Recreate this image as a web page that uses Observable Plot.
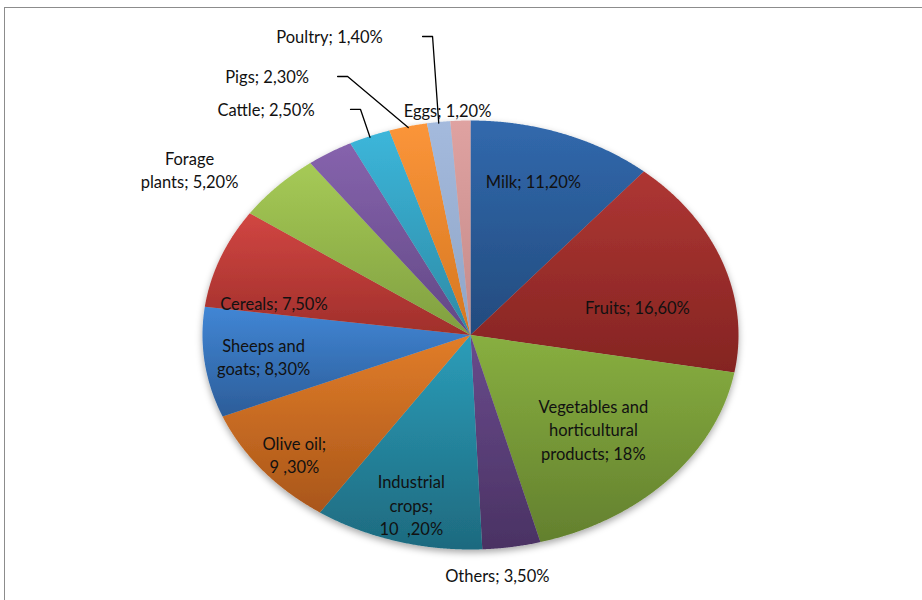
<!DOCTYPE html>
<html><head><meta charset="utf-8">
<script src="https://cdn.jsdelivr.net/npm/d3@7"></script>
<script src="https://cdn.jsdelivr.net/npm/@observablehq/plot@0.6"></script>
<style>
body{margin:0;background:#fff;}
#wrap{position:relative;width:922px;height:600px;overflow:hidden;background:#fff;}
#frame{position:absolute;left:4px;top:7px;width:1000px;height:1000px;border-left:1.5px solid #8c8c8c;border-top:1.5px solid #8c8c8c;}
#chart{position:absolute;left:0;top:0;}
</style></head><body>
<div id="wrap"><div id="frame"></div><div id="chart"></div></div>
<script>
// ---- data ----
const categories = ["Milk","Fruits","Vegetables and horticultural products","Others","Industrial crops","Olive oil","Sheeps and goats","Cereals","Forage plants","Unlabelled","Cattle","Pigs","Poultry","Eggs"];
const shares = [11.2,16.6,18,3.5,10.2,9.3,8.3,7.5,5.2,2.8,2.5,2.3,1.4,1.2];
const labelTexts = ["Milk; 11,20%","Fruits; 16,60%","Vegetables and\nhorticultural\nproducts; 18%","Others; 3,50%","Industrial\ncrops;\n10  ,20%","Olive oil;\n9 ,30%","Sheeps and\ngoats; 8,30%","Cereals; 7,50%","Forage\nplants; 5,20%","","Cattle; 2,50%","Pigs; 2,30%","Poultry; 1,40%","Eggs; 1,20%"];
const colorsLight = ["#3169AD","#AE3633","#88AF40","#694B8C","#2B9DB9","#E17D29","#4186D5","#D14642","#A6CA56","#8663AD","#3CB6DA","#FB953A","#A4BADD","#DFA2A1"];
const colorsDark  = ["#234B7E","#842422","#63802E","#4A3263","#1E6A7F","#A9561A","#2C5D99","#A02F2B","#809F40","#624885","#2D8AA5","#D57720","#8FA5C7","#C48A89"];

// ---- layout config (label placement relative to slice mid-angle) ----
const labelShiftDeg = [-2.1,7.7,1.2,3.7,-0.2,-1.1,0.2,-9.4,-7.5,0,-13.7,-18.6,-13.8,-2.5];
const labelRadius   = [0.757,0.637,0.634,1.121,0.82,0.86,0.778,0.749,1.303,0,1.303,1.428,1.492,1.055];
const leaderOffsetPx = {10: 84.5, 11: 70.5, 12: 93};
const pxPerUnitX = 268, pxPerUnitY = 214.5;

// ---- geometry from data ----
const total = d3.sum(shares);
let cum = 0;
const slices = categories.map((name, i) => {
  const a0 = cum / total * 360; cum += shares[i];
  const a1 = cum / total * 360;
  return {name, i, a0, a1, mid: (a0 + a1) / 2};
});
const rad = d => d * Math.PI / 180;
const slicePoints = [];
for (const s of slices) {
  slicePoints.push({name: s.name, x: 0, y: 0});
  const n = Math.max(4, Math.ceil((s.a1 - s.a0) / 0.25));
  for (let k = 0; k <= n; k++) {
    const a = rad(s.a0 + (s.a1 - s.a0) * k / n);
    slicePoints.push({name: s.name, x: Math.sin(a), y: Math.cos(a)});
  }
}
const labelData = slices.filter(s => labelTexts[s.i]).map(s => {
  const a = rad(s.mid + labelShiftDeg[s.i]);
  const r = labelRadius[s.i];
  return {text: labelTexts[s.i], x: r * Math.sin(a), y: r * Math.cos(a), i: s.i};
});
const leaderPoints = [];
for (const l of labelData) {
  const off = leaderOffsetPx[l.i];
  if (off === undefined) continue;
  const s = slices[l.i];
  const sx = l.x + off / pxPerUnitX, sy = l.y - 1 / pxPerUnitY;
  leaderPoints.push({name: s.name, x: sx, y: sy});
  leaderPoints.push({name: s.name, x: sx + 10 / pxPerUnitX, y: sy});
  leaderPoints.push({name: s.name, x: Math.sin(rad(s.mid)) * 0.995, y: Math.cos(rad(s.mid)) * 0.995});
}

const chart = Plot.plot({
  width: 922, height: 600, margin: 0,
  x: {domain: [-1, 1], range: [202, 738], axis: null},
  y: {domain: [-1, 1], range: [549, 120], axis: null},
  color: {type: "ordinal", domain: categories, range: categories.map((_, i) => `url(#slice-grad-${i})`)},
  style: {background: "transparent"},
  marks: [
    Plot.line(slicePoints, {x: "x", y: "y", z: "name", fill: "name", stroke: "none"}),
    Plot.line(leaderPoints, {x: "x", y: "y", z: "name", stroke: "#000", strokeWidth: 1.3}),
    Plot.text(labelData, {x: "x", y: "y", text: "text", fontSize: 16.5, lineHeight: 1.42, fontFamily: "Lato, sans-serif", fill: "#111"})
  ]
});

// gradients + soft shadow
const NS = "http://www.w3.org/2000/svg";
const defs = document.createElementNS(NS, "defs");
categories.forEach((_, i) => {
  const g = document.createElementNS(NS, "linearGradient");
  g.setAttribute("id", `slice-grad-${i}`);
  g.setAttribute("x1", "0"); g.setAttribute("y1", "0"); g.setAttribute("x2", "0"); g.setAttribute("y2", "1");
  [[0, colorsLight[i]], [1, colorsDark[i]]].forEach(([o, c]) => {
    const st = document.createElementNS(NS, "stop");
    st.setAttribute("offset", o); st.setAttribute("stop-color", c);
    g.appendChild(st);
  });
  defs.appendChild(g);
});
const f = document.createElementNS(NS, "filter");
f.setAttribute("id", "pie-shadow");
f.setAttribute("x", "-10%"); f.setAttribute("y", "-10%"); f.setAttribute("width", "120%"); f.setAttribute("height", "125%");
const ds = document.createElementNS(NS, "feDropShadow");
ds.setAttribute("dx", "0"); ds.setAttribute("dy", "3"); ds.setAttribute("stdDeviation", "3.5");
ds.setAttribute("flood-color", "#000"); ds.setAttribute("flood-opacity", "0.35");
f.appendChild(ds); defs.appendChild(f);
chart.insertBefore(defs, chart.firstChild);
const sg = chart.querySelector('g[aria-label="line"]');
if (sg) sg.setAttribute("filter", "url(#pie-shadow)");
document.getElementById("chart").appendChild(chart);
</script>
</body></html>
